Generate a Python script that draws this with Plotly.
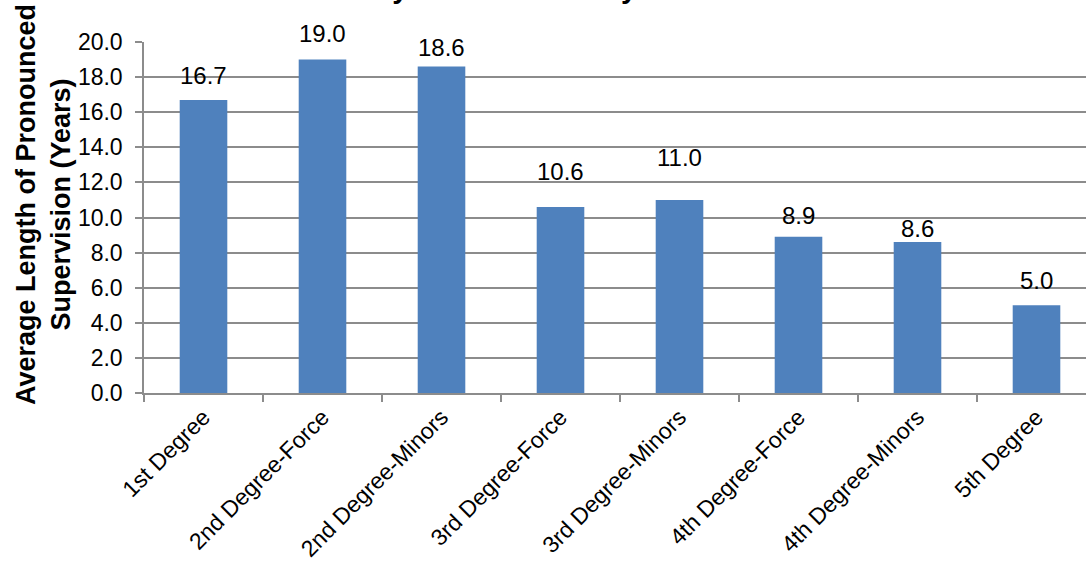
import plotly.graph_objects as go

# Average pronounced supervision length per offense category
offenses = [
    "1st Degree",
    "2nd Degree-Force",
    "2nd Degree-Minors",
    "3rd Degree-Force",
    "3rd Degree-Minors",
    "4th Degree-Force",
    "4th Degree-Minors",
    "5th Degree",
]
avg_years = [16.7, 19.0, 18.6, 10.6, 11.0, 8.9, 8.6, 5.0]
y_ticks = [0, 2, 4, 6, 8, 10, 12, 14, 16, 18, 20]

# vertical pixel offset of each value label above its bar
label_lift = [24, 26, 19, 35, 42, 21, 14, 25]

FONT = "Arial, Liberation Sans, sans-serif"
GRID = "#8c8c8c"

fig = go.Figure(
    go.Bar(
        x=offenses,
        y=avg_years,
        marker=dict(color="#4F81BD", line=dict(width=0)),
        width=0.4,
        hoverinfo="x+y",
    )
)

for name, val, lift in zip(offenses, avg_years, label_lift):
    fig.add_annotation(
        x=name, y=val, xref="x", yref="y",
        text=f"{val:.1f}", showarrow=False,
        yanchor="middle", yshift=lift,
        font=dict(family=FONT, size=24, color="#000000"),
    )

# chart title (sits at the very top edge)
fig.add_annotation(
    x=0.431, y=1.155, xref="paper", yref="paper",
    text="<b>Stayed Sentences by Offense</b>", showarrow=False,
    xanchor="center", yanchor="middle",
    font=dict(family=FONT, size=29, color="#000000"),
)

# y-axis title
fig.add_annotation(
    x=-0.106, y=0.536, xref="paper", yref="paper",
    text="<b>Average Length of Pronounced<br>Supervision (Years)</b>",
    showarrow=False, textangle=-90,
    xanchor="center", yanchor="middle",
    font=dict(family=FONT, size=27, color="#000000"),
)

fig.update_layout(
    width=1086, height=569,
    margin=dict(l=144, r=0, t=42, b=176),
    paper_bgcolor="white", plot_bgcolor="white",
    showlegend=False,
    bargap=0.6,
)

fig.update_xaxes(
    type="category",
    range=[-0.5, 7.416],
    tickangle=-45,
    tickson="boundaries",
    ticks="outside", ticklen=7, tickcolor=GRID, tickwidth=1.5,
    showline=True, linecolor=GRID, linewidth=1.5,
    showgrid=False,
    tickfont=dict(family=FONT, size=23, color="#000000"),
)

fig.update_yaxes(
    range=[0, 20],
    tickvals=y_ticks,
    ticktext=[f"{v:.1f}" for v in y_ticks],
    ticks="outside", ticklen=7, tickcolor=GRID, tickwidth=1.5,
    ticklabelstandoff=8,
    showline=True, linecolor=GRID, linewidth=1.5,
    showgrid=True, gridcolor=GRID, gridwidth=1.5,
    zeroline=False,
    tickfont=dict(family=FONT, size=23, color="#000000"),
)

fig.write_html("out.html")
